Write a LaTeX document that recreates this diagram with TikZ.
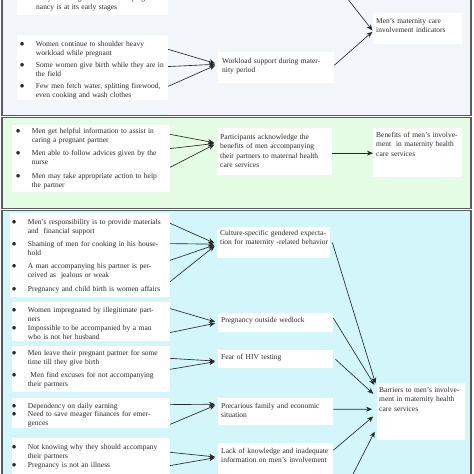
\documentclass[tikz,border=0pt]{standalone}
\usepackage{fontspec}
\setmainfont{Liberation Serif}
\usetikzlibrary{arrows.meta}
\definecolor{topfill}{RGB}{242, 245, 250}
\definecolor{midfill}{RGB}{228, 251, 228}
\definecolor{lowfill}{RGB}{211, 246, 251}
\definecolor{framegray}{RGB}{88, 92, 96}
\definecolor{inkgray}{RGB}{40, 40, 40}
\newcommand\tx{\fontsize{7.5}{9.5}\selectfont}
\newcommand\bl{\makebox[16bp][l]{\fontsize{9.5}{9.5}\selectfont$\bullet$}}
\newcommand\cn{\hspace*{16bp}}
\newcommand\jl[2][138bp]{\makebox[#1][s]{#2}}
\tikzset{
    panel/.style={draw=framegray, line width=1.3bp},
    wbox/.style={fill=white, inner sep=0, anchor=north west},
    itemtext/.style={inner sep=0, anchor=north west, align=left,
        text width=#1, font=\tx, text=inkgray},
    link/.style={draw=inkgray, line width=0.65bp,
        -{Stealth[length=6bp, width=5bp]}},
}

\begin{document}
\begin{tikzpicture}[x=1bp, y=-1bp]
    \useasboundingbox (0, 0) rectangle (474, 474);
    \fill[white] (0, 0) rectangle (474, 474);
    \clip (0, 0) rectangle (474, 474);
    \draw[panel, fill=topfill] (2, -10) rectangle (471, 115.5);
    \draw[panel, fill=midfill] (2, 117.5) rectangle (471, 208.5);
    \draw[panel, fill=lowfill] (2, 210.5) rectangle (471, 490);

    % top panel
    \node[wbox, minimum width=151bp, minimum height=30bp] (abx) at (17, -15) {};
    \node[itemtext=130bp] (atx) at (36, -5)
        {They don't register when their preg-\\nancy is at its early stages};
    \node[wbox, minimum width=89bp, minimum height=31bp] (mbx) at (373, 13) {};
    \node[itemtext=85bp] (mtx) at (376, 18)
        {Men's maternity care\\involvement indicators};
    \node[wbox, minimum width=151bp, minimum height=65bp] (bbx) at (17, 35) {};
    \node[itemtext=148bp] (b1) at (19.7, 41)
        {\bl Women continue to shoulder heavy\\\cn workload while pregnant};
    \node[itemtext=148bp] (b2) at (19.7, 62)
        {\bl\mbox{Some women give birth while they are in}\\\cn the field};
    \node[itemtext=148bp] (b3) at (19.7, 83)
        {\bl\mbox{Few men fetch water, splitting firewood,}\\\cn even cooking and wash clothes};
    \node[wbox, minimum width=116bp, minimum height=31bp] (wbx) at (218, 52) {};
    \node[itemtext=112bp] (wtx) at (222, 58)
        {Workload support during mater-\\nity period};

    % middle panel
    \node[wbox, minimum width=158bp, minimum height=67bp] (cbx) at (12, 125) {};
    \node[itemtext=154bp] (c1) at (15.7, 128)
        {\bl\jl[135bp]{Men get helpful information to assist in}\\\cn caring a pregnant partner};
    \node[itemtext=154bp] (c2) at (15.7, 150)
        {\bl\jl[135bp]{Men able to follow advices given by the}\\\cn nurse};
    \node[itemtext=154bp] (c3) at (15.7, 173)
        {\bl Men may take appropriate action to help\\\cn the partner};
    \node[wbox, minimum width=115bp, minimum height=47bp] (pbx) at (217, 128) {};
    \node[itemtext=112bp] (ptx) at (220, 134)
        {Participants acknowledge the\\benefits of men accompanying\\their partners to maternal health\\care services};
    \node[wbox, minimum width=89bp, minimum height=49bp] (benbx) at (373, 128) {};
    \node[itemtext=88bp] (bentx) at (376, 132)
        {Benefits of men's involve-\\ment\ \ in maternity health\\care services};

    % bottom panel
    \node[wbox, minimum width=160bp, minimum height=84bp] (dbx) at (10, 213) {};
    \node[itemtext=158bp] (d1) at (11.7, 219)
        {\bl\mbox{Men's responsibility is to provide materials}\\\cn and\ \ financial support};
    \node[itemtext=158bp] (d2) at (11.7, 241)
        {\bl Shaming of men for cooking in his house-\\\cn hold};
    \node[itemtext=158bp] (d3) at (11.7, 263)
        {\bl\jl{A man accompanying his partner is per-}\\\cn ceived as\ \ jealous or weak};
    \node[itemtext=158bp] (d4) at (11.7, 286)
        {\bl\mbox{Pregnancy and child birth is women affairs}};
    \node[wbox, minimum width=113bp, minimum height=31bp] (cubx) at (217, 227) {};
    \node[itemtext=125bp] (cutx) at (220, 230)
        {Culture-specific gendered expecta-\\tion for maternity -related behavior};

    \node[wbox, minimum width=158bp, minimum height=39bp] (ebx) at (12, 302) {};
    \node[itemtext=158bp] (e1) at (11.7, 307)
        {\bl\jl[136bp]{Women impregnated by illegitimate part-}\\\cn ners};
    \node[itemtext=158bp] (e2) at (11.7, 325)
        {\bl Impossible to be accompanied by a man\\\cn who is not her husband};
    \node[wbox, minimum width=115bp, minimum height=19bp] (pobx) at (218, 313) {};
    \node[itemtext=110bp] (potx) at (221, 317) {Pregnancy outside wedlock};

    \node[wbox, minimum width=158bp, minimum height=46bp] (fbx) at (12, 346) {};
    \node[itemtext=158bp] (f1) at (11.7, 350)
        {\bl\jl[136bp]{Men leave their pregnant partner for some}\\\cn time till they give birth};
    \node[itemtext=158bp] (f2) at (11.7, 372)
        {\bl\jl[136bp]{\ Men find excuses for not accompanying}\\\cn their partners};
    \node[wbox, minimum width=115bp, minimum height=18bp] (hivbx) at (218, 350) {};
    \node[itemtext=110bp] (hivtx) at (221, 354) {Fear of HIV testing};

    \node[wbox, minimum width=158bp, minimum height=30bp] (gbx) at (12, 398) {};
    \node[itemtext=158bp] (g1) at (11.7, 403)
        {\bl Dependency on daily earning};
    \node[itemtext=158bp] (g2) at (11.7, 411)
        {\bl\jl{Need to save meager finances for emer-}\\\cn gences};
    \node[wbox, minimum width=115bp, minimum height=27bp] (prbx) at (218, 398) {};
    \node[itemtext=112bp] (prtx) at (221, 403)
        {Precarious family and economic\\situation};

    \node[wbox, minimum width=158bp, minimum height=40bp] (hbx) at (12, 438) {};
    \node[itemtext=158bp] (h1) at (11.7, 444)
        {\bl\jl[137bp]{Not knowing why they should accompany}\\\cn their partners};
    \node[itemtext=158bp] (h2) at (11.7, 462)
        {\bl Pregnancy is not an illness};
    \node[wbox, minimum width=115bp, minimum height=36bp] (lkbx) at (218, 443) {};
    \node[itemtext=120bp] (lktx) at (221, 448)
        {Lack of knowledge and inadequate\\information on men's involvement};

    \node[wbox, minimum width=88bp, minimum height=57bp] (barbx) at (377, 383) {};
    \node[itemtext=88bp] (bartx) at (379, 387)
        {Barriers to men's involve-\\ment in maternity health\\care services};

    \coordinate (topin) at (347, -2);
    \coordinate (lowin) at (352, 476);

    % connectors
    \draw[link, shorten >=3bp] (b1.east) -- ([yshift=3.5bp]wbx.west);
    \draw[link, shorten >=3bp] ([yshift=3bp]b2.east) -- ([yshift=3.5bp]wbx.west);
    \draw[link, shorten >=3bp] ([yshift=5bp]b3.east) -- ([yshift=3.5bp]wbx.west);
    \draw[link, shorten >=1bp] ([yshift=2.5bp]wbx.east) -- ([yshift=-2.5bp]mbx.west);
    \draw[link, shorten >=1bp] (topin) -- ([yshift=-2.5bp]mbx.west);

    \draw[link, shorten >=3bp] ([yshift=2bp]c1.east) -- ([yshift=8.5bp]pbx.west);
    \draw[link, shorten >=3bp] ([yshift=9bp]c2.east) -- ([yshift=8.5bp]pbx.west);
    \draw[link, shorten >=3bp] ([yshift=14bp]c3.east) -- ([yshift=8.5bp]pbx.west);
    \draw[link] ([yshift=-1.5bp]pbx.east) -- ([yshift=-0.5bp]benbx.west);

    \draw[link, shorten >=3bp] ([yshift=4bp]d1.east) -- ([yshift=-1.5bp]cubx.west);
    \draw[link, shorten >=3bp] ([yshift=5bp]d2.east) -- ([yshift=-1.5bp]cubx.west);
    \draw[link, shorten >=3bp] ([yshift=11bp]d3.east) -- ([yshift=-1.5bp]cubx.west);
    \draw[link, shorten >=3bp] ([yshift=8bp]d4.east) -- ([yshift=-1.5bp]cubx.west);

    \draw[link, shorten >=3bp] ([yshift=6bp]e1.east) -- (pobx.west);
    \draw[link, shorten >=3bp] (e2.east) -- (pobx.west);
    \draw[link, shorten >=3bp] (f1.east) -- ([yshift=-2bp]hivbx.west);
    \draw[link, shorten >=3bp] ([yshift=11bp]f2.east) -- ([yshift=-2bp]hivbx.west);
    \draw[link, shorten >=3bp] ([yshift=2bp]g1.east) -- ([yshift=7.5bp]prbx.west);
    \draw[link, shorten >=3bp] ([yshift=-5bp]g2.east) -- ([yshift=7.5bp]prbx.west);
    \draw[link, shorten >=3bp] (h1.east) -- ([yshift=4bp]lkbx.west);
    \draw[link, shorten >=3bp] (h2.east) -- ([yshift=4bp]lkbx.west);

    \draw[link, shorten >=5bp] ([xshift=2bp]cubx.east) -- ([yshift=23.5bp]barbx.west);
    \draw[link, shorten >=5bp] ([yshift=4.5bp]pobx.east) -- ([yshift=22.5bp]barbx.west);
    \draw[link, shorten >=5bp] ([xshift=2bp]hivbx.east) -- ([yshift=14.5bp]barbx.west);
    \draw[link, shorten >=5bp] ([yshift=2.5bp]prbx.east) -- ([yshift=2.5bp]barbx.west);
    \draw[link, shorten >=5bp] ([yshift=11bp]lkbx.east) -- ([yshift=-1.5bp]barbx.west);
    \draw[link, shorten >=5bp] (lowin) -- ([yshift=-15.5bp]barbx.west);
\end{tikzpicture}
\end{document}
